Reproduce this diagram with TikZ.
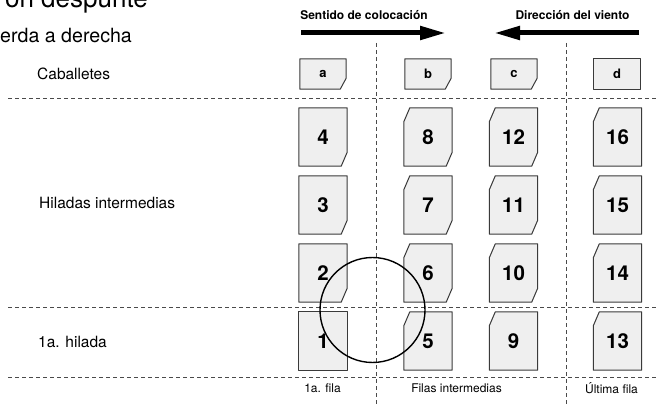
\documentclass[tikz,border=0pt]{standalone}
\usepackage{fontspec}
\setmainfont{TeX Gyre Heros}
\usetikzlibrary{arrows.meta,calc,backgrounds}
\definecolor{tilefill}{HTML}{EFEFEF}
\definecolor{tileline}{HTML}{3A3A3A}
\definecolor{dashgray}{HTML}{4A4A4A}
\tikzset{
  tile/.style={minimum width=48pt, minimum height=58pt, inner sep=0pt, font=\bfseries\fontsize{20.5}{20.5}\selectfont},
  caballete/.style={minimum width=46pt, minimum height=30pt, inner sep=0pt, font=\bfseries\fontsize{13}{13}\selectfont},
  tileshape/.style={fill=tilefill, draw=tileline, line width=1pt, line join=round},
  divider/.style={draw=dashgray, line width=0.9pt, dash pattern=on 4pt off 3pt},
  rowlabel/.style={anchor=west, inner sep=0pt, font=\fontsize{15.5}{15.5}\selectfont},
  collabel/.style={inner sep=0pt, font=\fontsize{12}{12}\selectfont},
  header/.style={inner sep=0pt, font=\bfseries\fontsize{12}{12}\selectfont},
  bigarrow/.style={line width=5pt, -{Triangle[length=26pt,width=13pt]}}
}
% tile outline with cut corners: node, top-left cut, bottom-right cut, cut x, cut y
\newcommand{\cutbox}[5]{%
  \path[tileshape] ($(#1.north west)+(0,#2*#5)$) -- ($(#1.north west)+(#2*#4,0)$) -- (#1.north east)
    -- ($(#1.south east)+(0,-#3*#5)$) -- ($(#1.south east)+(-#3*#4,0)$) -- (#1.south west) -- cycle;}
\begin{document}
\begin{tikzpicture}[x=1pt, y=-1pt]
	\useasboundingbox (0,0) rectangle (657,404);
	% title (cut off)
	\node[anchor=base east, inner sep=0pt, font=\fontsize{26}{26}\selectfont] (titulo) at (148,7.5) {ón despunte};
	\node[anchor=base west, inner sep=0pt, font=\fontsize{19.6}{19.6}\selectfont] (subtitulo) at (0,42.7) {erda a derecha};
	% headers and arrows
	\node[header] (sentido) at (364,15) {Sentido de colocación};
	\node[header] (viento) at (572.5,15) {Dirección del viento};
	\coordinate (s0) at (301,33);
	\coordinate (s1) at (446,33);
	\coordinate (v0) at (639,33);
	\coordinate (v1) at (494,33);
	\draw[bigarrow] (s0) -- (s1);
	\draw[bigarrow] (v0) -- (v1);
	% dividers
	\draw[divider] (8,98) -- (657,98);
	\draw[divider] (8,307) -- (657,307);
	\draw[divider] (8,377) -- (657,377);
	\draw[divider] (376,43) -- (376,404);
	\draw[divider] (566,43) -- (566,404);
	% row labels
	\node[rowlabel] (cab) at (37,74) {Caballetes};
	\node[rowlabel] (hil) at (39,203) {Hiladas intermedias};
	\node[rowlabel] (pri) at (38,342) {1a. hilada};
	% column labels
	\node[collabel] (fila1) at (322.5,388) {1a. fila};
	\node[collabel] (filas) at (456.5,388) {Filas intermedias};
	\node[collabel] (ultima) at (611.5,388) {Última fila};
	% caballetes
	\node[caballete] (ca) at (323,74) {a};
	\node[caballete] (cb) at (428,74) {b};
	\node[caballete] (cc) at (514,74) {c};
	\node[caballete] (cd) at (617,74) {d};
	% tiles
	\node[tile] (t4) at (323,137) {4};
	\node[tile] (t3) at (323,205) {3};
	\node[tile] (t2) at (323,273) {2};
	\node[tile] (t1) at (323,341) {1};
	\node[tile] (t8) at (428,137) {8};
	\node[tile] (t7) at (428,205) {7};
	\node[tile] (t6) at (428,273) {6};
	\node[tile] (t5) at (428,341) {5};
	\node[tile] (t12) at (513.5,137) {12};
	\node[tile] (t11) at (513.5,205) {11};
	\node[tile] (t10) at (513.5,273) {10};
	\node[tile] (t9) at (513.5,341) {9};
	\node[tile] (t16) at (617.5,137) {16};
	\node[tile] (t15) at (617.5,205) {15};
	\node[tile] (t14) at (617.5,273) {14};
	\node[tile] (t13) at (617.5,341) {13};
	\begin{scope}[on background layer]
		\foreach \n/\tl/\br in {ca/0/1, cb/0/1, cc/0/1, cd/0/0}
			\cutbox{\n}{\tl}{\br}{6}{11};
		\foreach \n/\tl/\br in {t4/0/1, t3/0/1, t2/0/1, t1/0/0, t8/1/1, t7/1/1, t6/1/1, t5/1/0,
			t12/1/1, t11/1/1, t10/1/1, t9/1/0, t16/1/0, t15/1/0, t14/1/0, t13/1/0}
			\cutbox{\n}{\tl}{\br}{6}{14};
	\end{scope}
	% circle
	\node[draw, circle, minimum size=105pt, inner sep=0pt, line width=1.4pt] (zona) at (372.5,310) {};
\end{tikzpicture}
\end{document}
